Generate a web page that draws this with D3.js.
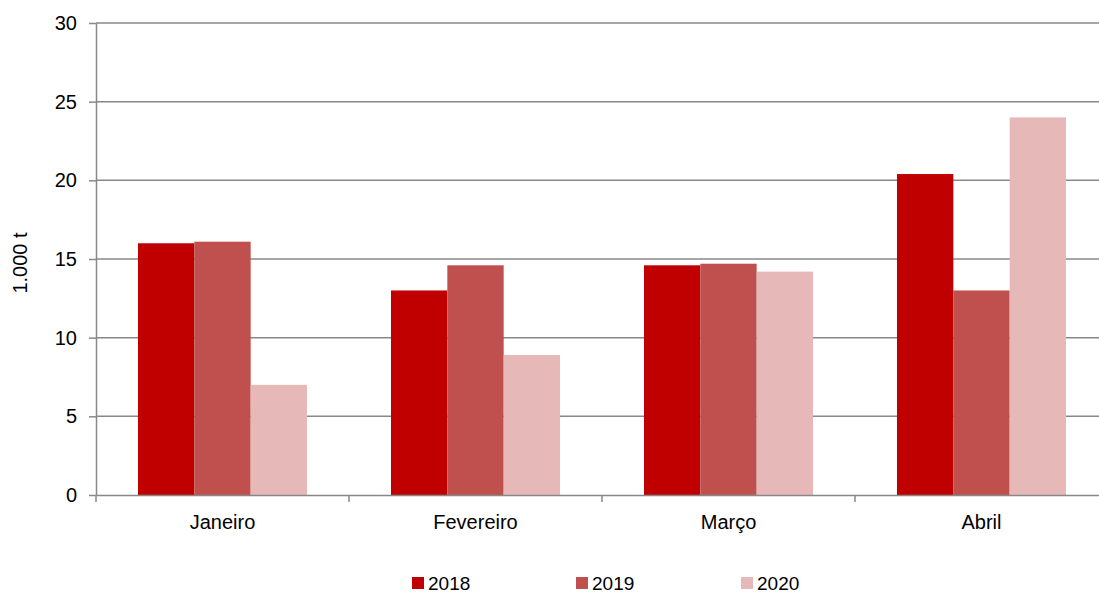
<!DOCTYPE html>
<html>
<head>
<meta charset="utf-8">
<script src="https://cdn.jsdelivr.net/npm/d3@7"></script>
<style>
  html, body { margin: 0; padding: 0; background: #fff; }
  svg { display: block; font-family: "Liberation Sans", Arial, sans-serif; }
</style>
</head>
<body>
<svg id="chart" width="1099" height="594"></svg>
<script>
const months = ["Janeiro", "Fevereiro", "Março", "Abril"];
const years = ["2018", "2019", "2020"];
const v2018 = [16.0, 13.0, 14.6, 20.4];
const v2019 = [16.1, 14.6, 14.7, 13.0];
const v2020 = [7.0, 8.9, 14.2, 24.0];
const yTicks = [0, 5, 10, 15, 20, 25, 30];
const colors = ["#c00000", "#c0504d", "#e6b9b8"];

const series = [v2018, v2019, v2020];
const FONT = "Liberation Sans, Arial, sans-serif";
const svg = d3.select("#chart");
// plot area runs slightly past the right edge of the canvas
const m = { left: 96, right: 1108, top: 23, bottom: 495 };

const x = d3.scaleBand().domain(months).range([m.left, m.right]);
const xi = d3.scaleBand().domain(years).range([0, x.bandwidth()]).paddingOuter(0.745);
const y = d3.scaleLinear().domain([0, 30]).range([m.bottom, m.top]);

// horizontal gridlines
svg.append("g").selectAll("line").data(yTicks.filter(t => t > 0)).join("line")
  .attr("x1", m.left).attr("x2", m.right)
  .attr("y1", d => y(d)).attr("y2", d => y(d))
  .attr("stroke", "#888").attr("stroke-width", 1.5);

// bars
const groups = svg.append("g").selectAll("g").data(months).join("g")
  .attr("transform", d => `translate(${x(d)},0)`);
groups.selectAll("rect")
  .data((d, i) => years.map((yr, j) => ({ yr, v: series[j][i], c: colors[j] })))
  .join("rect")
  .attr("x", d => xi(d.yr))
  .attr("width", xi.bandwidth())
  .attr("y", d => y(d.v))
  .attr("height", d => y(0) - y(d.v))
  .attr("fill", d => d.c);

// y axis
const yAxis = svg.append("g").attr("transform", `translate(${m.left},0)`)
  .call(d3.axisLeft(y).tickValues(yTicks).tickSize(7).tickPadding(12).tickSizeOuter(0));
yAxis.select(".domain").attr("stroke", "#888").attr("stroke-width", 1.5);
yAxis.selectAll(".tick line").attr("stroke", "#888").attr("stroke-width", 1.5);
yAxis.selectAll(".tick text").attr("font-size", 20).attr("fill", "#000")
  .attr("font-family", FONT);

// x axis
const xAxis = svg.append("g").attr("transform", `translate(0,${m.bottom})`)
  .call(d3.axisBottom(x).tickSize(0).tickPadding(20).tickSizeOuter(0));
xAxis.select(".domain").attr("stroke", "#888").attr("stroke-width", 1.5);
xAxis.selectAll(".tick text").attr("font-size", 20).attr("fill", "#000")
  .attr("font-family", FONT);
// category boundary ticks
svg.append("g").selectAll("line")
  .data(months.map(d => x(d)).concat([m.right]))
  .join("line")
  .attr("x1", d => d).attr("x2", d => d)
  .attr("y1", m.bottom).attr("y2", m.bottom + 7)
  .attr("stroke", "#888").attr("stroke-width", 1.5);

// y axis title
svg.append("text")
  .attr("transform", `translate(27,263) rotate(-90)`)
  .attr("text-anchor", "middle")
  .attr("font-size", 20).attr("fill", "#000")
  .text("1.000 t");

// legend
const legendX = [412, 576, 741];
const legend = svg.append("g").selectAll("g").data(years).join("g")
  .attr("transform", (d, i) => `translate(${legendX[i]},577)`);
legend.append("rect").attr("width", 12).attr("height", 12)
  .attr("fill", (d, i) => colors[i]);
legend.append("text").attr("x", 16).attr("y", 13)
  .attr("font-size", 19).attr("fill", "#000").text(d => d);
</script>
</body>
</html>
